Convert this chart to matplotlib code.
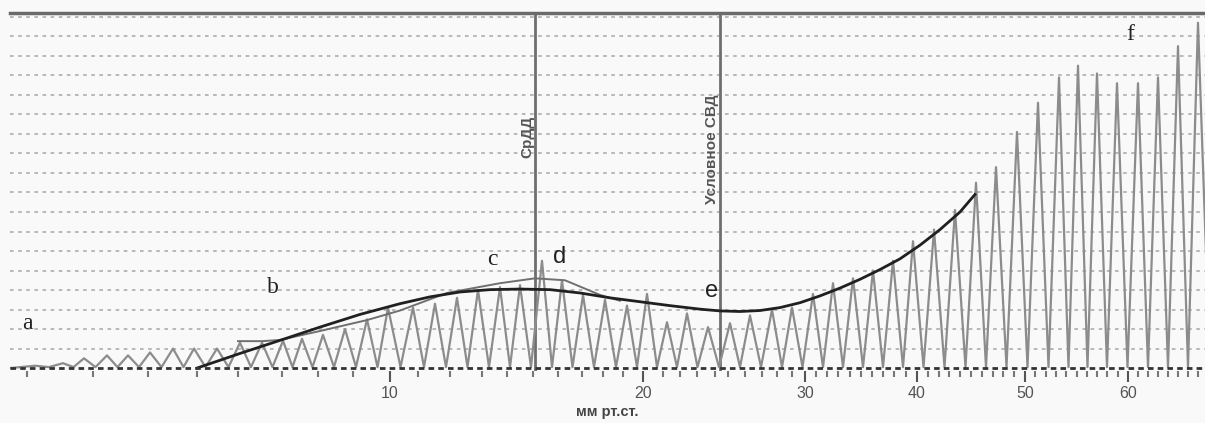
import numpy as np
import matplotlib.pyplot as plt

plt.rcParams['font.family'] = ['Liberation Sans', 'DejaVu Sans']

# oscillation peaks: time (samples) and amplitude (grid units)
peak_t = [35, 63, 84, 107, 128, 150, 173, 194, 217, 240, 262, 283, 302, 323, 345, 367,
          388, 413, 435, 457, 478, 500, 520, 542, 562, 583, 605, 627, 647, 667, 687, 708,
          730, 750, 772, 792, 813, 833, 853, 873, 893, 913, 934, 955, 976, 996, 1017,
          1038, 1059, 1078, 1097, 1117, 1138, 1158, 1178, 1198]
peak_h = [0.12, 0.25, 0.5, 0.65, 0.65, 0.8, 1.0, 1.0, 1.0, 1.3, 1.3, 1.4, 1.5, 1.7, 2.0, 2.5,
          3.1, 3.1, 3.3, 3.6, 4.0, 4.15, 4.25, 5.5, 4.5, 3.75, 3.5, 3.2, 3.8, 2.35, 2.8, 2.1,
          2.3, 2.7, 3.0, 3.1, 3.8, 4.35, 4.6, 5.0, 5.5, 6.5, 7.1, 8.1, 9.5, 10.3, 12.1,
          13.6, 14.9, 15.5, 15.1, 14.6, 14.6, 14.9, 16.5, 17.7]

# approximating envelope (black)
env_t = [197, 240, 280, 320, 360, 400, 430, 460, 490, 520, 550, 580, 610, 640, 670, 700,
         720, 740, 760, 780, 800, 820, 840, 860, 880, 900, 920, 940, 960, 975]
env_h = [0.0, 0.75, 1.42, 2.1, 2.75, 3.3, 3.65, 3.9, 4.02, 4.05, 4.02, 3.85, 3.6, 3.4, 3.2, 3.02,
         2.93, 2.9, 2.95, 3.1, 3.35, 3.7, 4.1, 4.55, 5.05, 5.6, 6.3, 7.1, 8.0, 8.9]

# peak envelope (grey)
penv_t = [238, 262, 280, 320, 367, 400, 447, 500, 535, 565, 600, 620]
penv_h = [1.38, 1.38, 1.44, 1.9, 2.46, 2.95, 3.85, 4.35, 4.6, 4.5, 3.75, 3.45]

# pressure scale (mm Hg) marked along the time axis
major_t = [390, 643, 805, 917, 1025, 1128]
major_lbl = ['10', '20', '30', '40', '50', '60']
minor_t = [27, 93, 148, 197, 238, 282, 318, 353,
           418, 450, 482, 507, 533, 558, 582, 603, 623,
           663, 680, 697, 715, 728, 745, 762, 777, 792,
           816, 827, 838, 850, 861, 872, 883, 894, 906,
           928, 939, 949, 960, 971, 982, 993, 1003, 1014,
           1035, 1046, 1056, 1066, 1077, 1087, 1097, 1107, 1118,
           1138, 1148, 1158, 1168, 1178, 1188, 1198]

markers = [(535, 'СрДД', 11.85), (720, 'Условное СВД', 11.2)]
letters = [('a', 27, 2.3, 'Liberation Serif'), ('b', 273, 4.15, 'Liberation Serif'),
           ('c', 492, 5.55, 'Liberation Serif'), ('d', 560, 5.7, 'Liberation Sans'),
           ('e', 712, 3.95, 'Liberation Sans'), ('f', 1130, 17.1, 'Liberation Serif')]

bg = '#f9f9f9'
fig = plt.figure(figsize=(12.05, 4.23), dpi=100, facecolor=bg)
ax = fig.add_axes([10 / 1205, 52 / 423, 1195 / 1205, 358 / 423], facecolor=bg)

# build the trace: peaks joined by troughs half way between them
xmin, xmax = 10, 1210
tr_t, tr_v = [xmin], [0.0]
for i, (t, h) in enumerate(zip(peak_t, peak_h)):
    if i > 0:
        tr_t.append((peak_t[i - 1] + t) / 2)
        tr_v.append(0.05)
    tr_t.append(t)
    tr_v.append(h)
tr_t.append(xmax)
tr_v.append(0.0)

for g in range(1, 19):
    ax.axhline(g, color='#b3b3b3', lw=1.3, ls=(0, (2, 2.5)), zorder=1)

ax.plot(tr_t, tr_v, color='#8c8c8c', lw=1.6, zorder=3)
ax.plot(penv_t, penv_h, color='#707070', lw=1.4, zorder=4)
ax.plot(env_t, env_h, color='#202020', lw=2.0, zorder=5, solid_joinstyle='round')
ax.axhline(0, color='#333333', lw=2, ls=(0, (2, 1.5)), zorder=6)

for t, name, y in markers:
    ax.axvline(t, ymin=0, ymax=1, color='#6e6e6e', lw=2, zorder=2)
    ax.text(t - 8, y, name, rotation=90, ha='center', va='center',
            fontsize=11, fontweight='bold', color='#555555')

for s, x, y, fam in letters:
    ax.text(x, y, s, ha='center', va='center', fontsize=17, color='#222222', family=fam)

ax.set_xlim(xmin, 1205)
ax.set_ylim(-0.15, 18.2)
ax.set_yticks([])
ax.set_xticks(major_t)
ax.set_xticklabels(major_lbl)
ax.set_xticks(minor_t, minor=True)
ax.tick_params(axis='x', which='major', length=8, width=1.5, color='#555555',
               labelsize=11.5, labelcolor='#555555', pad=3)
ax.tick_params(axis='x', which='minor', length=4, width=1.5, color='#777777')
ax.set_xlabel('мм рт.ст.', fontsize=10.5, fontweight='bold', color='#444444', labelpad=3)

for side in ['left', 'right', 'bottom']:
    ax.spines[side].set_visible(False)
ax.spines['top'].set_color('#6a6a6a')
ax.spines['top'].set_linewidth(2.5)

fig.savefig('out.png', dpi=100, facecolor=bg)
